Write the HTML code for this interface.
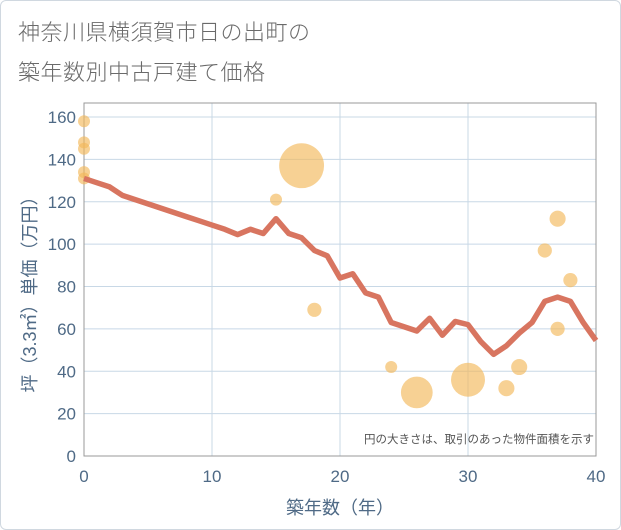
<!DOCTYPE html>
<html><head><meta charset="utf-8"><style>
body{margin:0;background:#fff;}
#wrap{position:relative;width:619px;height:528px;border:1px solid #d0d8e0;border-radius:6px;overflow:hidden;font-family:"Liberation Sans","Noto Sans CJK JP",sans-serif;}
.t{position:absolute;left:17px;font-size:22px;color:#6a6a6a;letter-spacing:0.5px;font-weight:300;}
</style></head><body>
<div id="wrap">
<div class="t" style="top:14px">神奈川県横須賀市日の出町の</div>
<div class="t" style="top:54px">築年数別中古戸建て価格</div>
<svg id="svg" width="621" height="530" style="position:absolute;left:-1px;top:-1px"></svg>
</div>
<script>
const years=[0,1,2,3,4,5,6,7,8,9,10,11,12,13,14,15,16,17,18,19,20,21,22,23,24,25,26,27,28,29,30,31,32,33,34,35,36,37,38,39,40];
const avgPrice=[131,129,127,123,121,119,117,115,113,111,109,107,104.5,107,105,112,105,103,97,94.5,84,86,77,75,63,61,59,65,57,63.5,62,54,48,52,58,63,73,75,73,63,54.5];
const bubbleYears=[0,0,0,0,0,15,17,18,24,26,30,33,34,36,37,37,38];
const bubblePrices=[158,148,145,134,131,121,137,69,42,30,36,32,42,97,112,60,83];
const bubbleSizes=[1,1,1,1,1,1,14,1.4,1,7,8,1.8,1.8,1.4,1.8,1.4,1.4];
const xTicks=[0,10,20,30,40];
const yTicks=[0,20,40,60,80,100,120,140,160];
const NS='http://www.w3.org/2000/svg';
const svg=document.getElementById('svg');
const X0=84,X1=596,Y0=456,Ytop=103;
const xs=v=>X0+(v/40)*(X1-X0);
const ys=v=>Y0-v*(456-117)/160;
const TC='#4f6a86';
function mk(t,a){const e=document.createElementNS(NS,t);for(const k in a)e.setAttribute(k,a[k]);svg.appendChild(e);return e;}
yTicks.forEach(v=>{
 const l=mk('line',{x1:X0,x2:X1,y1:ys(v),y2:ys(v),stroke:'#c8d8e6','stroke-width':1});
 
 
 const t=mk('text',{x:76,y:ys(v)+6,'text-anchor':'end','font-size':17,fill:TC,'font-family':'Liberation Sans'});
 t.textContent=v;
 
 
});
xTicks.forEach(v=>{
 const l=mk('line',{x1:xs(v),x2:xs(v),y1:Ytop,y2:Y0,stroke:'#c8d8e6','stroke-width':1});
 
 
 const t=mk('text',{x:xs(v),y:482,'text-anchor':'middle','font-size':17,fill:TC,'font-family':'Liberation Sans'});
 t.textContent=v;
 
 
});
const fr=mk('rect',{x:X0,y:Ytop,width:X1-X0,height:Y0-Ytop,fill:'none',stroke:'#999','stroke-width':1});


bubbleYears.forEach((y,i)=>{
 const c=mk('circle',{cx:xs(y),cy:ys(bubblePrices[i]),r:6*Math.sqrt(bubbleSizes[i]),fill:'#f2b85a','fill-opacity':0.65});
 
 
});
const p=mk('polyline',{points:years.map((y,i)=>xs(y)+','+ys(avgPrice[i])).join(' '),fill:'none',stroke:'#d87560','stroke-width':5.5,'stroke-linejoin':'round'});


const n=mk('text',{x:594,y:443,'text-anchor':'end','font-size':11.5,fill:'#555','font-family':'Liberation Sans, Noto Sans CJK JP'});
n.textContent='円の大きさは、取引のあった物件面積を示す';


const xl=mk('text',{x:340,y:514,'text-anchor':'middle','font-size':18,fill:TC,'font-family':'Liberation Sans, Noto Sans CJK JP'});
xl.textContent='築年数（年）';


const yl=mk('text',{x:0,y:0,'text-anchor':'middle','font-size':18,fill:TC,'font-family':'Liberation Sans, Noto Sans CJK JP',transform:'translate(36,290) rotate(-90)'});
yl.textContent='坪（3.3㎡）単価（万円）';


</script>
</body></html>
